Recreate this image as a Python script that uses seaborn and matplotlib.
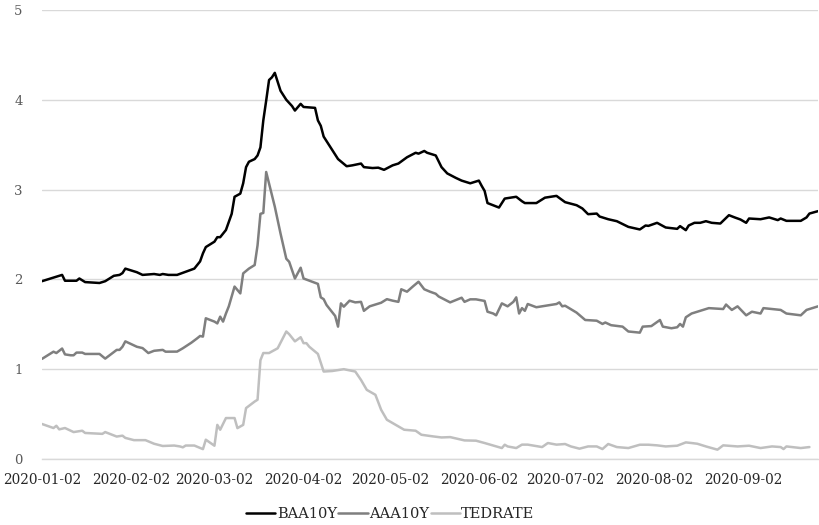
import pandas as pd
import matplotlib.pyplot as plt
import seaborn as sns

baa_dates = ["2020-01-02", "2020-01-06", "2020-01-09", "2020-01-10", "2020-01-14", "2020-01-15", "2020-01-17",
             "2020-01-22", "2020-01-24", "2020-01-27", "2020-01-29", "2020-01-30", "2020-01-31", "2020-02-04",
             "2020-02-06", "2020-02-10", "2020-02-12", "2020-02-13", "2020-02-15", "2020-02-18", "2020-02-21",
             "2020-02-24", "2020-02-25", "2020-02-26", "2020-02-27", "2020-02-28", "2020-03-02", "2020-03-03",
             "2020-03-04", "2020-03-06", "2020-03-08", "2020-03-09", "2020-03-11", "2020-03-12", "2020-03-13",
             "2020-03-14", "2020-03-16", "2020-03-17", "2020-03-18", "2020-03-19", "2020-03-20", "2020-03-21",
             "2020-03-22", "2020-03-23", "2020-03-24", "2020-03-25", "2020-03-27", "2020-03-29", "2020-03-30",
             "2020-04-01", "2020-04-02", "2020-04-06", "2020-04-07", "2020-04-08", "2020-04-09", "2020-04-12",
             "2020-04-14", "2020-04-17", "2020-04-19", "2020-04-22", "2020-04-23", "2020-04-26", "2020-04-28",
             "2020-04-30", "2020-05-03", "2020-05-05", "2020-05-08", "2020-05-11", "2020-05-12", "2020-05-14",
             "2020-05-15", "2020-05-18", "2020-05-20", "2020-05-22", "2020-05-25", "2020-05-27", "2020-05-30",
             "2020-06-02", "2020-06-03", "2020-06-04", "2020-06-05", "2020-06-09", "2020-06-11", "2020-06-15",
             "2020-06-17", "2020-06-18", "2020-06-22", "2020-06-25", "2020-06-29", "2020-07-02", "2020-07-06",
             "2020-07-08", "2020-07-10", "2020-07-13", "2020-07-14", "2020-07-17", "2020-07-20", "2020-07-24",
             "2020-07-28", "2020-07-30", "2020-07-31", "2020-08-03", "2020-08-06", "2020-08-10", "2020-08-11",
             "2020-08-13", "2020-08-14", "2020-08-16", "2020-08-18", "2020-08-20", "2020-08-22", "2020-08-25",
             "2020-08-28", "2020-08-30", "2020-09-01", "2020-09-03", "2020-09-04", "2020-09-08", "2020-09-11",
             "2020-09-14", "2020-09-15", "2020-09-17", "2020-09-22", "2020-09-24", "2020-09-25", "2020-09-28"]
baa_values = [1.98, 2.02, 2.05, 1.985, 1.985, 2.01, 1.97,
              1.96, 1.98, 2.04, 2.05, 2.07, 2.12, 2.08,
              2.05, 2.06, 2.05, 2.06, 2.05, 2.05, 2.085,
              2.12, 2.16, 2.20, 2.29, 2.36, 2.42, 2.47,
              2.47, 2.55, 2.73, 2.92, 2.955, 3.07, 3.25,
              3.31, 3.34, 3.38, 3.47, 3.77, 3.99, 4.22,
              4.25, 4.30, 4.20, 4.10, 4.00, 3.93, 3.88,
              3.955, 3.92, 3.91, 3.77, 3.71, 3.59, 3.44,
              3.34, 3.26, 3.27, 3.29, 3.25, 3.24, 3.244,
              3.22, 3.27, 3.29, 3.36, 3.41, 3.40, 3.43,
              3.41, 3.38, 3.25, 3.18, 3.13, 3.10, 3.07,
              3.10, 3.04, 2.985, 2.85, 2.80, 2.90, 2.92,
              2.87, 2.85, 2.85, 2.91, 2.93, 2.86, 2.826,
              2.79, 2.726, 2.733, 2.70, 2.67, 2.648, 2.585,
              2.556, 2.60, 2.596, 2.63, 2.578, 2.563, 2.593,
              2.548, 2.60, 2.63, 2.63, 2.648, 2.63, 2.622,
              2.715, 2.69, 2.667, 2.63, 2.678, 2.67, 2.69,
              2.66, 2.678, 2.652, 2.652, 2.69, 2.733, 2.76]

aaa_dates = ["2020-01-02", "2020-01-06", "2020-01-07", "2020-01-09", "2020-01-10", "2020-01-12", "2020-01-13",
             "2020-01-14", "2020-01-16", "2020-01-17", "2020-01-22", "2020-01-24", "2020-01-28", "2020-01-29",
             "2020-01-30", "2020-01-31", "2020-02-04", "2020-02-06", "2020-02-08", "2020-02-10", "2020-02-13",
             "2020-02-14", "2020-02-16", "2020-02-18", "2020-02-20", "2020-02-23", "2020-02-25", "2020-02-26",
             "2020-02-27", "2020-02-28", "2020-03-02", "2020-03-03", "2020-03-04", "2020-03-05", "2020-03-06",
             "2020-03-07", "2020-03-09", "2020-03-11", "2020-03-12", "2020-03-14", "2020-03-16", "2020-03-17",
             "2020-03-18", "2020-03-19", "2020-03-20", "2020-03-23", "2020-03-25", "2020-03-27", "2020-03-28",
             "2020-03-30", "2020-04-01", "2020-04-02", "2020-04-05", "2020-04-07", "2020-04-08", "2020-04-09",
             "2020-04-10", "2020-04-13", "2020-04-14", "2020-04-15", "2020-04-16", "2020-04-18", "2020-04-20",
             "2020-04-22", "2020-04-23", "2020-04-25", "2020-04-29", "2020-05-01", "2020-05-03", "2020-05-05",
             "2020-05-06", "2020-05-08", "2020-05-10", "2020-05-12", "2020-05-14", "2020-05-16", "2020-05-18",
             "2020-05-19", "2020-05-23", "2020-05-27", "2020-05-28", "2020-05-30", "2020-06-01", "2020-06-04",
             "2020-06-05", "2020-06-07", "2020-06-08", "2020-06-10", "2020-06-12", "2020-06-14", "2020-06-15",
             "2020-06-16", "2020-06-17", "2020-06-18", "2020-06-19", "2020-06-22", "2020-06-24", "2020-06-27",
             "2020-06-29", "2020-06-30", "2020-07-01", "2020-07-02", "2020-07-06", "2020-07-09", "2020-07-13",
             "2020-07-15", "2020-07-16", "2020-07-18", "2020-07-22", "2020-07-24", "2020-07-28", "2020-07-29",
             "2020-08-01", "2020-08-04", "2020-08-05", "2020-08-08", "2020-08-10", "2020-08-11", "2020-08-12",
             "2020-08-13", "2020-08-15", "2020-08-18", "2020-08-21", "2020-08-26", "2020-08-27", "2020-08-29",
             "2020-08-31", "2020-09-03", "2020-09-05", "2020-09-08", "2020-09-09", "2020-09-15", "2020-09-17",
             "2020-09-22", "2020-09-24", "2020-09-28"]
aaa_values = [1.115, 1.195, 1.18, 1.23, 1.165, 1.155, 1.155,
              1.185, 1.185, 1.17, 1.17, 1.118, 1.215, 1.215,
              1.25, 1.31, 1.25, 1.235, 1.18, 1.205, 1.215,
              1.195, 1.196, 1.196, 1.233, 1.296, 1.344, 1.37,
              1.363, 1.567, 1.53, 1.51, 1.585, 1.53, 1.62,
              1.70, 1.92, 1.844, 2.067, 2.12, 2.16, 2.38,
              2.73, 2.74, 3.196, 2.81, 2.51, 2.23, 2.196,
              2.01, 2.13, 2.01, 1.974, 1.95, 1.80, 1.78,
              1.715, 1.593, 1.474, 1.733, 1.696, 1.763, 1.744,
              1.75, 1.65, 1.70, 1.74, 1.78, 1.763, 1.75,
              1.89, 1.863, 1.92, 1.974, 1.89, 1.863, 1.84,
              1.81, 1.744, 1.796, 1.75, 1.778, 1.778, 1.76,
              1.64, 1.62, 1.60, 1.733, 1.70, 1.75, 1.80,
              1.62, 1.68, 1.65, 1.726, 1.69, 1.70, 1.715,
              1.726, 1.744, 1.70, 1.707, 1.63, 1.548, 1.54,
              1.504, 1.52, 1.49, 1.474, 1.42, 1.407, 1.474,
              1.48, 1.548, 1.474, 1.456, 1.467, 1.504, 1.474,
              1.578, 1.62, 1.65, 1.68, 1.67, 1.72, 1.66,
              1.70, 1.60, 1.64, 1.62, 1.68, 1.66, 1.62,
              1.60, 1.66, 1.70]

ted_dates = ["2020-01-02", "2020-01-06", "2020-01-07", "2020-01-08", "2020-01-10", "2020-01-13", "2020-01-16",
             "2020-01-17", "2020-01-23", "2020-01-24", "2020-01-28", "2020-01-30", "2020-01-31", "2020-02-03",
             "2020-02-07", "2020-02-10", "2020-02-13", "2020-02-17", "2020-02-19", "2020-02-20", "2020-02-21",
             "2020-02-24", "2020-02-27", "2020-02-28", "2020-03-02", "2020-03-03", "2020-03-04", "2020-03-06",
             "2020-03-09", "2020-03-10", "2020-03-12", "2020-03-13", "2020-03-16", "2020-03-17", "2020-03-18",
             "2020-03-19", "2020-03-21", "2020-03-24", "2020-03-27", "2020-03-28", "2020-03-30", "2020-04-01",
             "2020-04-02", "2020-04-03", "2020-04-04", "2020-04-07", "2020-04-09", "2020-04-12", "2020-04-16",
             "2020-04-20", "2020-04-22", "2020-04-24", "2020-04-27", "2020-04-29", "2020-05-01", "2020-05-05",
             "2020-05-07", "2020-05-11", "2020-05-13", "2020-05-17", "2020-05-20", "2020-05-23", "2020-05-28",
             "2020-06-01", "2020-06-04", "2020-06-10", "2020-06-11", "2020-06-12", "2020-06-15", "2020-06-17",
             "2020-06-19", "2020-06-24", "2020-06-26", "2020-06-29", "2020-07-02", "2020-07-04", "2020-07-07",
             "2020-07-10", "2020-07-13", "2020-07-15", "2020-07-17", "2020-07-20", "2020-07-24", "2020-07-28",
             "2020-07-31", "2020-08-03", "2020-08-06", "2020-08-10", "2020-08-13", "2020-08-15", "2020-08-17",
             "2020-08-20", "2020-08-24", "2020-08-26", "2020-08-31", "2020-09-04", "2020-09-08", "2020-09-12",
             "2020-09-15", "2020-09-16", "2020-09-17", "2020-09-22", "2020-09-25"]
ted_values = [0.39, 0.345, 0.37, 0.33, 0.345, 0.30, 0.315,
              0.29, 0.28, 0.30, 0.25, 0.26, 0.235, 0.21,
              0.21, 0.17, 0.145, 0.15, 0.14, 0.13, 0.15,
              0.15, 0.11, 0.215, 0.148, 0.38, 0.326, 0.456,
              0.456, 0.344, 0.38, 0.567, 0.64, 0.66, 1.10,
              1.18, 1.18, 1.233, 1.42, 1.39, 1.31, 1.356,
              1.29, 1.29, 1.25, 1.17, 0.974, 0.98, 1.0,
              0.974, 0.88, 0.77, 0.715, 0.548, 0.437, 0.363,
              0.326, 0.315, 0.27, 0.252, 0.24, 0.244, 0.207,
              0.204, 0.178, 0.122, 0.159, 0.14, 0.122, 0.16,
              0.16, 0.133, 0.178, 0.16, 0.167, 0.14, 0.115,
              0.14, 0.14, 0.111, 0.167, 0.133, 0.122, 0.159,
              0.159, 0.152, 0.14, 0.148, 0.185, 0.178, 0.17,
              0.14, 0.104, 0.152, 0.14, 0.148, 0.122, 0.14,
              0.133, 0.111, 0.14, 0.122, 0.133]

series_names = ["BAA10Y", "AAA10Y", "TEDRATE"]
series_colors = ["#000000", "#7f7f7f", "#bfbfbf"]
tick_dates = ["2020-01-02", "2020-02-02", "2020-03-02", "2020-04-02", "2020-05-02",
              "2020-06-02", "2020-07-02", "2020-08-02", "2020-09-02"]

frames = []
for name, d, v in zip(series_names, [baa_dates, aaa_dates, ted_dates], [baa_values, aaa_values, ted_values]):
    frames.append(pd.DataFrame({"date": pd.to_datetime(d), "value": v, "series": name}))
df = pd.concat(frames, ignore_index=True)

sns.set_style("white")
plt.rcParams['font.family'] = ['DejaVu Serif']

fig, ax = plt.subplots(figsize=(8.2, 5.25), dpi=100)
fig.subplots_adjust(left=0.0512, right=0.9976, top=0.981, bottom=0.1257)

sns.lineplot(data=df, x="date", y="value", hue="series", hue_order=series_names,
             palette=series_colors, linewidth=1.8, estimator=None, ax=ax)

ax.set_ylim(0, 5)
ax.set_yticks(range(6))
ax.set_xlim(pd.Timestamp("2020-01-02"), pd.Timestamp("2020-09-28"))
ax.set_xticks(pd.to_datetime(tick_dates))
ax.set_xticklabels(tick_dates)
ax.set_xlabel("")
ax.set_ylabel("")

ax.set_axisbelow(True)
ax.grid(axis="y", color="#d9d9d9", linewidth=1)
ax.grid(axis="x", visible=False)
for s in ["top", "right", "left"]:
    ax.spines[s].set_visible(False)
ax.spines["bottom"].set_color("#d9d9d9")
ax.spines["bottom"].set_linewidth(1)

ax.tick_params(axis="x", length=5, width=1, color="#d9d9d9", labelsize=9.8, labelcolor="#262626", pad=5)
ax.tick_params(axis="y", length=0, labelsize=9.5, labelcolor="#595959", pad=14)

ax.legend(loc="center", bbox_to_anchor=(0.476, 0.02), bbox_transform=fig.transFigure,
          ncol=3, frameon=False, handlelength=2.0, handletextpad=0.1, columnspacing=0.1,
          fontsize=10.5, labelcolor="#262626")

fig.savefig("out.png", dpi=100)
